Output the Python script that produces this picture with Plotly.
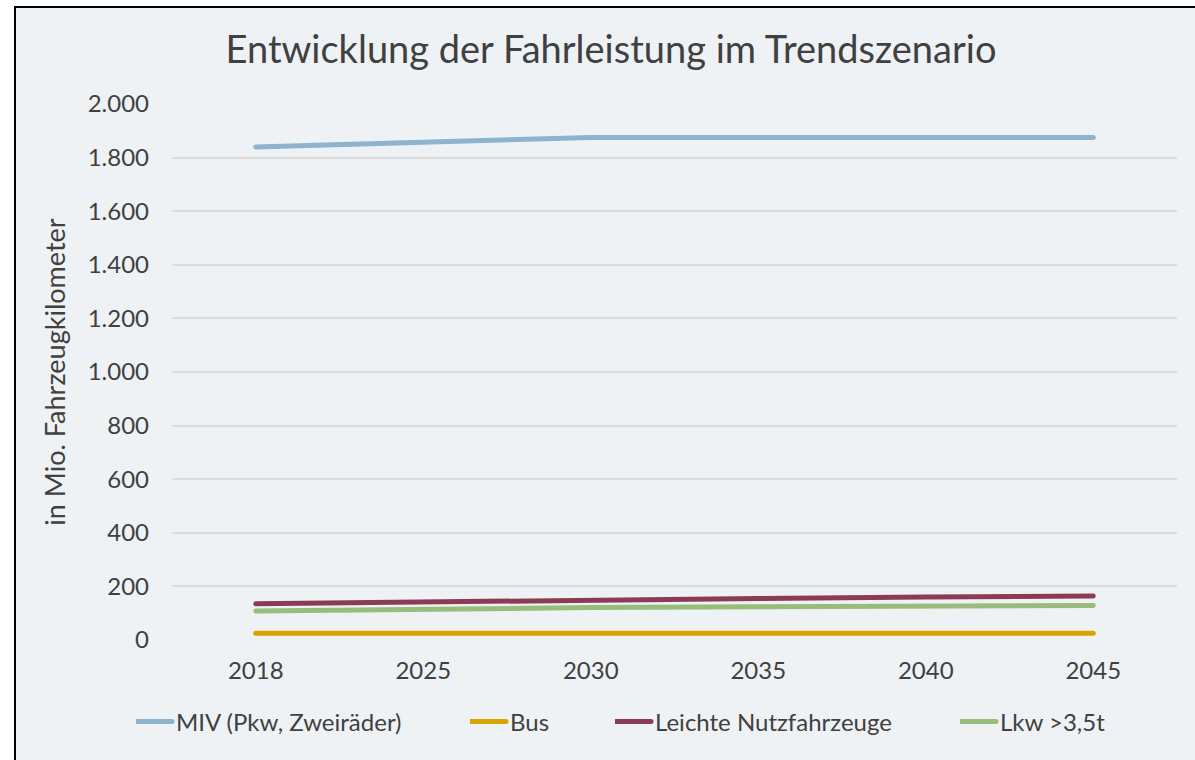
import plotly.graph_objects as go

years = ["2018", "2025", "2030", "2035", "2040", "2045"]
miv = [1840, 1858, 1875, 1875, 1875, 1875]
bus = [25, 25, 25, 25, 25, 25]
lnf = [135, 143, 150, 155, 160, 164]
lkw = [108, 115, 121, 124, 127, 129]
y_ticks = [0, 200, 400, 600, 800, 1000, 1200, 1400, 1600, 1800, 2000]

series = [
    ("MIV (Pkw, Zweiräder)", miv, "#8DB3CE", "legend", 176),
    ("Bus", bus, "#DAA300", "legend2", 510),
    ("Leichte Nutzfahrzeuge", lnf, "#8B3C54", "legend3", 655),
    ("Lkw >3,5t", lkw, "#98BC7B", "legend4", 1000),
]

W, H = 1195, 760
L, R, T, B = 172, 18, 104, 120
pw, ph = W - L - R, H - T - B

def px_x(p):
    return (p - L) / pw

def px_y(p):
    return (H - B - p) / ph

font = "Lato, Carlito, sans-serif"
txt = "#404040"

fig = go.Figure()
legends = {}
for name, vals, col, leg, tx in series:
    fig.add_trace(go.Scatter(x=years, y=vals, name=name, mode="lines",
                             line=dict(color=col, width=5), legend=leg))
    legends[leg] = dict(orientation="h", x=px_x(tx - 40), xanchor="left", xref="paper",
                        y=px_y(722), yanchor="middle", bgcolor="rgba(0,0,0,0)",
                        font=dict(size=24, color=txt, family=font))

bg = "#EEF2F5"
fig.add_shape(type="rect", xref="paper", yref="paper",
              x0=px_x(15), x1=px_x(1210), y0=px_y(790), y1=px_y(7),
              fillcolor=bg, line=dict(color="#000000", width=2), layer="below")

fig.update_layout(
    width=W, height=H,
    margin=dict(l=L, r=R, t=T, b=B),
    paper_bgcolor="white", plot_bgcolor="rgba(0,0,0,0)",
    separators=",.",
    font=dict(family=font, color=txt, size=24),
    title=dict(text="Entwicklung der Fahrleistung im Trendszenario",
               x=px_x(611), xanchor="center", xref="paper",
               y=1 - 50 / H, yanchor="middle",
               font=dict(size=38, color=txt, family=font)),
    xaxis=dict(type="category", range=[-0.5, 5.5], showgrid=False, zeroline=False,
               showline=False, ticks="", tickfont=dict(size=24, color=txt),
               ticklabelstandoff=14),
    yaxis=dict(range=[0, 2000], tickvals=y_ticks,
               tickformat=",", showgrid=True, gridcolor="#DCDCDC", gridwidth=1.5,
               zeroline=False, showline=False, ticks="",
               tickfont=dict(size=24, color=txt), ticklabelstandoff=22,
               title=dict(text="in Mio. Fahrzeugkilometer", standoff=14,
                          font=dict(size=27, color=txt))),
    showlegend=True,
    **legends,
)

post = (
    "document.body.style.margin='0';"
    "document.querySelectorAll('path.js-line').forEach(function(p){"
    "p.style.strokeLinecap='round';p.style.strokeLinejoin='round';});"
    "document.querySelectorAll('.legendlines path').forEach(function(p){"
    "p.setAttribute('d','M-18,0h54');});"
)
fig.write_html("out.html", config={"displayModeBar": False}, post_script=post)
